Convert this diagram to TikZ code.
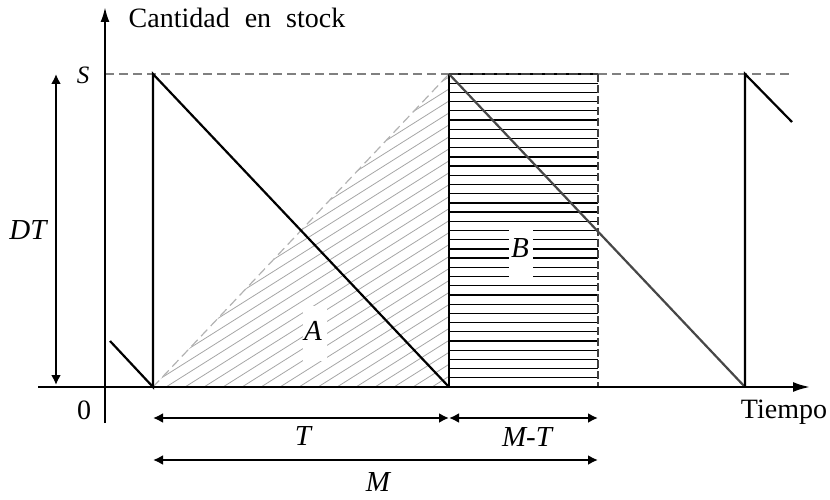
\documentclass[tikz,border=0pt]{standalone}
\usepackage{fontspec}
\setmainfont{Liberation Serif}
\usetikzlibrary{arrows.meta}
\begin{document}
\begin{tikzpicture}[x=1pt,y=-1pt,
  axis/.style={line width=2.2pt,-{Latex[length=17pt,width=10pt]}},
  saw/.style={line width=2.2pt,black,line join=miter},
  sawgray/.style={line width=2.2pt,black!72},
  hatch/.style={line width=0.8pt,black!35},
  bline/.style={line width=1.3pt,black},
  sdash/.style={line width=1.2pt,black!50,dash pattern=on 9pt off 5pt},
  dim/.style={line width=2.2pt,{Latex[length=10pt,width=10pt]}-{Latex[length=10pt,width=10pt]}},
  lab/.style={font=\fontsize{29}{32}\selectfont\itshape,inner sep=0pt},
  txt/.style={font=\fontsize{28}{31}\selectfont,inner sep=0pt},
  blank/.style={fill=white,inner sep=0pt,minimum width=24pt,minimum height=55pt}]
\useasboundingbox (0,0) rectangle (830,500);
% key points
\coordinate (s0) at (110,341);
\coordinate (a0) at (153,387);
\coordinate (a1) at (153,74);
\coordinate (b0) at (449,387);
\coordinate (b1) at (449,74);
\coordinate (r0) at (598,387);
\coordinate (r1) at (598,74);
\coordinate (c0) at (745,387);
\coordinate (c1) at (745,74);
\coordinate (e) at (792,122);
\coordinate (yb) at (105,423);
\coordinate (yt) at (105,7);
\coordinate (xl) at (38,387);
\coordinate (xr) at (810,387);
\coordinate (sl) at (105,74);
\coordinate (sr) at (793,74);
% hatch region A
\begin{scope}
  \clip (a0) -- (b1) -- (b0) -- cycle;
  \foreach \i in {0,...,46} \draw[hatch] ({153+19*\i-500},387) -- ++(500,-315);
\end{scope}
\draw[line width=1.2pt,black!30,dash pattern=on 9pt off 5pt] (a0) -- (b1);
% region B
\foreach \k in {0,...,34} \draw[bline] (449,{74+9.206*\k}) -- (598,{74+9.206*\k});
% S dashed line
\draw[sdash] (sl) -- (b1);
\draw[line width=1.5pt,black!75,dash pattern=on 9pt off 3pt] (b1) -- (r1);
\draw[sdash] (r1) -- (sr);
\draw[line width=1.5pt,black!75,dash pattern=on 8pt off 3pt] (r1) -- (r0);
% white label boxes
\node[blank] (Abox) at (315,333) {};
\node[blank] (Bbox) at (521,250) {};
\node[lab] (A) at (313,331) {A};
\node[lab] (B) at (520,248) {B};
% sawtooth
\draw[saw] (s0) -- (a0) -- (a1) -- (b0);
\draw[saw] (b1) -- (b0);
\draw[sawgray] (b1) -- (c0);
\draw[saw] (c0) -- (c1) -- (e);
% axes
\draw[axis] (xl) -- (xr);
\draw[line width=2.2pt,-{Latex[length=15pt,width=9pt]}] (yb) -- (yt);
% dimension arrows
\coordinate (d0) at (56,74);
\coordinate (d1) at (56,385);
\draw[dim] (d0) -- (d1);
\coordinate (t0) at (153,418);
\coordinate (t1) at (449,418);
\coordinate (t2) at (598,418);
\draw[dim] (t0) -- (t1);
\draw[dim] (t1) -- (t2);
\coordinate (m0) at (153,460);
\coordinate (m1) at (598,460);
\draw[dim] (m0) -- (m1);
% labels
\node[txt] (ylab) at (237,18) {Cantidad\hspace{15pt}en\hspace{15pt}stock};
\node[txt] (xlab) at (784,412) {Tiempo};
\node[lab,font=\fontsize{25}{28}\selectfont\itshape] (S) at (83,75) {S};
\node[txt] (zero) at (84,410) {0};
\node[lab] (DT) at (28,230) {DT};
\node[lab] (T) at (303,436) {T};
\node[lab] (MT) at (527,437) {M-T};
\node[lab] (M) at (378,482) {M};
\end{tikzpicture}
\end{document}
